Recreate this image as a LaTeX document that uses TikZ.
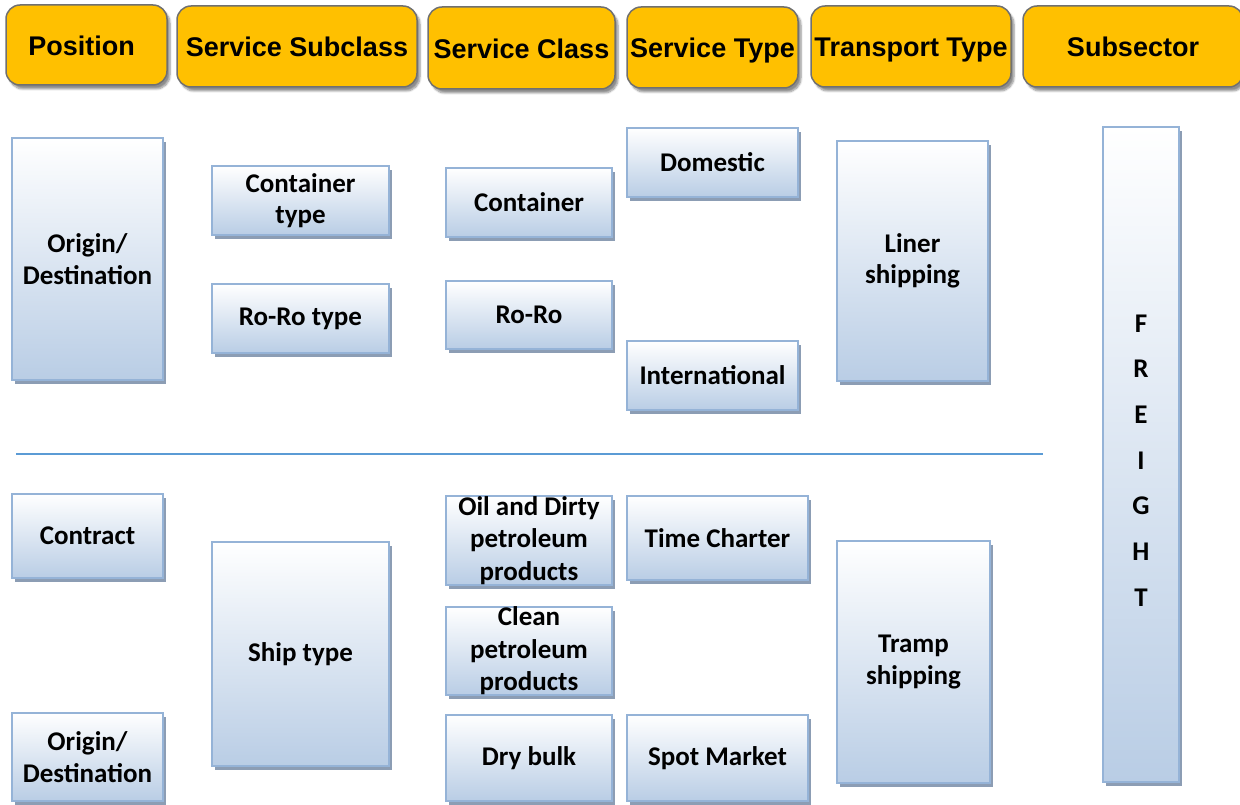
\documentclass[tikz,border=0pt]{standalone}
\usepackage{fontspec}
\setmainfont{Carlito}
\newfontfamily\hdrfont{Liberation Sans}
\usetikzlibrary{shadows,shadows.blur}
\definecolor{hdrfill}{HTML}{FFC000}
\definecolor{hdrline}{HTML}{707070}
\definecolor{boxline}{HTML}{95B3D7}
\definecolor{boxblue}{HTML}{B9CDE5}
\definecolor{boxshadow}{HTML}{8C9DB4}
\definecolor{sepline}{HTML}{5B9BD5}
\tikzset{
  hdr/.style={draw=hdrline, line width=1.5pt, fill=hdrfill, rounded corners=14pt,
    inner sep=0pt, text height=25pt, text depth=4pt, font=\hdrfont\bfseries\fontsize{27}{30}\selectfont,
    blur shadow={shadow xshift=3pt, shadow yshift=-4pt, shadow blur steps=6, shadow opacity=45}},
  bx/.style={draw=boxline, line width=2pt, top color=white, bottom color=boxblue,
    inner sep=0pt, align=center, font=\bfseries\fontsize{27}{31.5}\selectfont,
    drop shadow={shadow xshift=3pt, shadow yshift=-4pt, fill=boxshadow, opacity=1}},
  threeline/.style={font=\bfseries\fontsize{27}{32.5}\selectfont},
  freighttext/.style={align=center, font=\bfseries\fontsize{27}{45.7}\selectfont},
  sep/.style={draw=sepline, line width=1.2pt}
}
\begin{document}
\begin{tikzpicture}[x=1pt,y=-1pt]
\clip (0,0) rectangle (1240,805);
% headers
\node[hdr, minimum width=161pt, minimum height=80pt] (hpos) at (86.5,45) {\hspace*{-10pt}Position};
\node[hdr, minimum width=240pt, minimum height=81pt] (hsub) at (297,46.5) {Service Subclass};
\node[hdr, minimum width=187pt, minimum height=82pt] (hcls) at (521.5,48) {Service Class};
\node[hdr, minimum width=171pt, minimum height=81pt] (htyp) at (712.5,47.5) {Service Type};
\node[hdr, minimum width=200pt, minimum height=81pt] (htrn) at (911,46.5) {Transport Type};
\node[hdr, minimum width=220pt, minimum height=81pt] (hsec) at (1133,46.5) {Subsector};
% upper half
\node[bx, minimum width=151pt, minimum height=242pt] (od1) at (87.5,259) {Origin/\\Destination};
\node[bx, minimum width=177pt, minimum height=69pt] (ctype) at (300.5,200.5) {Container\\type};
\node[bx, minimum width=177pt, minimum height=69pt] (rrtype) at (300.5,318.5) {Ro-Ro type};
\node[bx, minimum width=166pt, minimum height=69pt] (cont) at (529,202.5) {Container};
\node[bx, minimum width=166pt, minimum height=68pt] (roro) at (529,315) {Ro-Ro};
\node[bx, minimum width=171pt, minimum height=69pt] (dom) at (712.5,162.5) {Domestic};
\node[bx, minimum width=171pt, minimum height=69pt] (intl) at (712.5,375.5) {International};
\node[bx, minimum width=151pt, minimum height=240pt] (liner) at (912.5,261) {Liner\\shipping};
\node[bx, minimum width=76pt, minimum height=655pt,
  label={[freighttext, yshift=-6pt]center:{F\\R\\E\\I\\G\\H\\T}}] (freight) at (1141,454.5) {};
% separator
\coordinate (sepA) at (16,454);
\coordinate (sepB) at (1043,454);
\draw[sep] (sepA) -- (sepB);
% lower half
\node[bx, minimum width=151pt, minimum height=84pt] (contract) at (87.5,536) {Contract};
\node[bx, minimum width=177pt, minimum height=224pt] (ship) at (300.5,654) {Ship type};
\node[bx, minimum width=151pt, minimum height=88pt] (od2) at (87.5,757) {Origin/\\Destination};
\node[bx, threeline, minimum width=166pt, minimum height=87pt] (oil) at (529,540.5) {Oil and Dirty\\petroleum\\products};
\node[bx, threeline, minimum width=166pt, minimum height=86pt] (clean) at (529,651) {Clean\\petroleum\\products};
\node[bx, minimum width=166pt, minimum height=86pt] (dry) at (529,758) {Dry bulk};
\node[bx, minimum width=181pt, minimum height=84pt] (time) at (717.5,538) {Time Charter};
\node[bx, minimum width=181pt, minimum height=86pt] (spot) at (717.5,758) {Spot Market};
\node[bx, minimum width=153pt, minimum height=242pt] (tramp) at (913.5,662) {Tramp\\shipping};
\end{tikzpicture}
\end{document}
